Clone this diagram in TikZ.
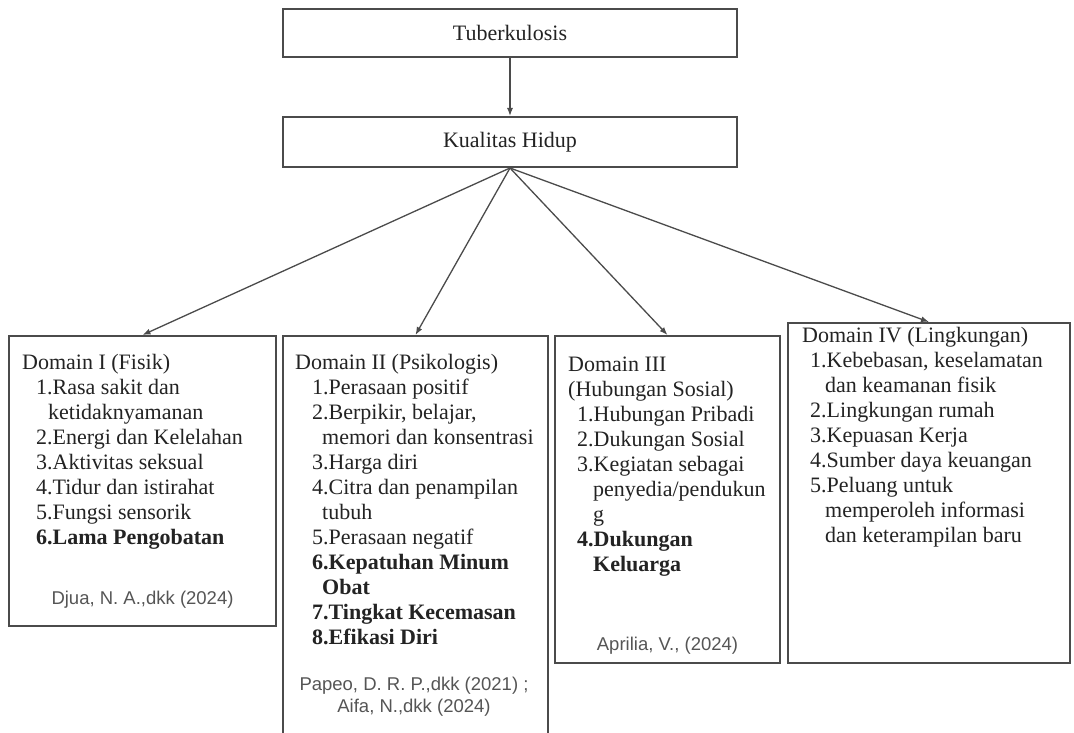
\documentclass[tikz,border=0pt]{standalone}
\usepackage{fontspec}
\setmainfont{Liberation Serif}
\newfontfamily\citeFont{Liberation Sans}
\usetikzlibrary{positioning,arrows.meta}
\definecolor{boxLine}{RGB}{75,75,75}
\definecolor{textColor}{RGB}{35,35,35}
\definecolor{citeColor}{RGB}{85,85,85}
\tikzstyle{topBox} = [draw=boxLine, line width=2pt, minimum width=454pt, inner sep=0pt, font=\fontsize{22}{25}\selectfont, text=textColor]
\tikzstyle{domainBox} = [draw=boxLine, line width=2pt, anchor=north west, inner sep=0pt]
\tikzstyle{domainText} = [anchor=north west, inner sep=0pt, align=left, font=\fontsize{22}{25}\selectfont, text=textColor]
\tikzstyle{citeText} = [inner sep=0pt, align=center, font=\citeFont\fontsize{18.5}{22}\selectfont, text=citeColor]
\tikzstyle{link} = [draw=boxLine, line width=1.3pt, -{Latex[length=8pt,width=6pt]}]
\newcommand{\num}[1]{\hspace*{#1pt}}
\begin{document}
\begin{tikzpicture}[x=1pt, y=-1pt]
  \clip (0,0) rectangle (1074,733);
  \fill[white] (0,0) rectangle (1074,733);

  % top row
  \node[topBox, minimum height=48pt] (tb) at (510,33) {Tuberkulosis};
  \node[topBox, minimum height=50pt] (kh) at (510,142) {Kualitas Hidup};

  % domain boxes
  \node[domainBox, minimum width=267pt, minimum height=290pt] (d1) at (8,335) {};
  \node[domainBox, minimum width=265pt, minimum height=420pt] (d2) at (282,335) {};
  \node[domainBox, minimum width=225pt, minimum height=327pt] (d3) at (554,335) {};
  \node[domainBox, minimum width=282pt, minimum height=340pt] (d4) at (787,322) {};

  \node[domainText] (t1) at ([xshift=14pt, yshift=-19pt]d1.north west) {%
    Domain I (Fisik)\\
    \num{14}1.Rasa sakit dan\\
    \num{26}ketidaknyamanan\\
    \num{14}2.Energi dan Kelelahan\\
    \num{14}3.Aktivitas seksual\\
    \num{14}4.Tidur dan istirahat\\
    \num{14}5.Fungsi sensorik\\
    \num{14}\textbf{6.Lama Pengobatan}};
  \node[domainText] (t2) at ([xshift=13pt, yshift=-19pt]d2.north west) {%
    Domain II (Psikologis)\\
    \num{17}1.Perasaan positif\\
    \num{17}2.Berpikir, belajar,\\
    \num{27}memori dan konsentrasi\\
    \num{17}3.Harga diri\\
    \num{17}4.Citra dan penampilan\\
    \num{27}tubuh\\
    \num{17}5.Perasaan negatif\\
    \num{17}\textbf{6.Kepatuhan Minum}\\
    \num{27}\textbf{Obat}\\
    \num{17}\textbf{7.Tingkat Kecemasan}\\
    \num{17}\textbf{8.Efikasi Diri}};
  \node[domainText] (t3) at ([xshift=14pt, yshift=-22pt]d3.north west) {%
    Domain III\\
    (Hubungan Sosial)\\
    \num{9}1.Hubungan Pribadi\\
    \num{9}2.Dukungan Sosial\\
    \num{9}3.Kegiatan sebagai\\
    \num{25}penyedia/pendukun\\
    \num{25}g\\
    \num{9}\textbf{4.Dukungan}\\
    \num{25}\textbf{Keluarga}};
  \node[domainText] (t4) at ([xshift=15pt, yshift=-5pt]d4.north west) {%
    Domain IV (Lingkungan)\\
    \num{8}1.Kebebasan, keselamatan\\
    \num{23}dan keamanan fisik\\
    \num{8}2.Lingkungan rumah\\
    \num{8}3.Kepuasan Kerja\\
    \num{8}4.Sumber daya keuangan\\
    \num{8}5.Peluang untuk\\
    \num{23}memperoleh informasi\\
    \num{23}dan keterampilan baru};

  % references
  \node[citeText] (c1) at ([yshift=27pt]d1.south) {Djua, N. A.,dkk (2024)};
  \node[citeText] (c2) at (414,697) {Papeo, D. R. P.,dkk (2021) ;\\Aifa, N.,dkk (2024)};
  \node[citeText] (c3) at ([yshift=18pt]d3.south) {Aprilia, V., (2024)};

  % arrows
  \draw[link] (tb.south) -- (kh.north);
  \draw[link] (kh.south) -- (d1.north);
  \draw[link] (kh.south) -- (d2.north);
  \draw[link] (kh.south) -- (d3.north);
  \draw[link] (kh.south) -- (d4.north);
\end{tikzpicture}
\end{document}
